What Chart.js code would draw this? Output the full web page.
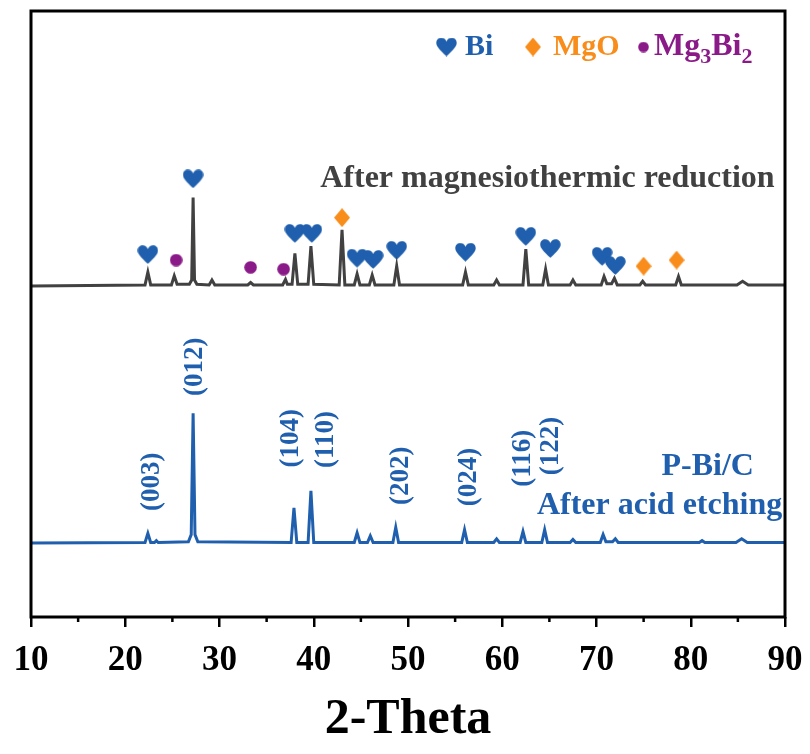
<!DOCTYPE html>
<html>
<head>
<meta charset="utf-8">
<script src="https://cdn.jsdelivr.net/npm/chart.js@4.4.1/dist/chart.umd.min.js"></script>
<style>
  html, body { margin: 0; padding: 0; background: #fff; }
  #wrap { width: 810px; height: 754px; }
</style>
</head>
<body>
<div id="wrap"><canvas id="xrd"></canvas></div>
<script>
// 2-Theta 坐标刻度
const xTicks = [10, 20, 30, 40, 50, 60, 70, 80, 90];

// 镁热还原后 (灰色曲线)
const mgThetas = [10, 22.1, 22.4, 22.7, 24.9, 25.2, 25.5, 26.8, 27.05, 27.2, 27.35, 27.6, 28.9, 29.2, 29.5,
  33.0, 33.3, 33.6, 36.7, 37.0, 37.2, 37.7, 38.0, 38.3, 39.4, 39.7, 40.0, 42.7, 43.0, 43.3,
  44.3, 44.6, 44.9, 45.9, 46.2, 46.5, 48.5, 48.8, 49.1, 55.8, 56.1, 56.4, 59.1, 59.4, 59.7,
  62.2, 62.5, 62.8, 64.3, 64.6, 64.9, 67.2, 67.5, 67.8, 70.5, 70.8, 71.1, 71.6, 71.9, 72.2,
  74.6, 74.9, 75.2, 78.4, 78.7, 79.0, 84.9, 85.5, 86.1, 90];
const mgCounts = [54.6, 54.8, 56.9, 54.8, 54.8, 56.3, 54.9, 54.9, 55.6, 69.2, 55.6, 54.9, 54.8, 55.6, 54.8,
  54.8, 55.2, 54.8, 54.8, 55.7, 54.9, 54.9, 60.0, 54.9, 54.9, 61.2, 54.9, 54.8, 63.9, 54.8,
  54.8, 56.6, 54.8, 54.8, 56.4, 54.8, 54.8, 57.9, 54.8, 54.8, 56.9, 54.8, 54.8, 55.6, 54.8,
  54.8, 60.7, 54.8, 54.8, 57.4, 54.8, 54.8, 55.6, 54.8, 54.8, 56.2, 55.0, 55.0, 55.9, 54.8,
  54.8, 55.4, 54.8, 54.8, 56.2, 54.8, 54.8, 55.4, 54.8, 54.8];

// 酸刻蚀后 P-Bi/C (蓝色曲线)
const pbThetas = [10, 22.1, 22.4, 22.7, 23.1, 23.3, 23.5, 26.7, 27.0, 27.2, 27.4, 27.7, 37.6, 37.9, 38.2,
  39.4, 39.7, 40.0, 44.3, 44.6, 44.9, 45.7, 46.0, 46.3, 48.4, 48.7, 49.0, 55.7, 56.0, 56.3,
  59.1, 59.4, 59.7, 61.9, 62.2, 62.5, 64.2, 64.5, 64.8, 67.2, 67.5, 67.8, 70.4, 70.7, 71.0,
  71.7, 72.0, 72.3, 80.9, 81.2, 81.5, 84.8, 85.4, 86.0, 90];
const pbCounts = [12.2, 12.3, 13.8, 12.3, 12.3, 12.6, 12.3, 12.4, 13.6, 33.6, 13.6, 12.4, 12.3, 18.0, 12.3,
  12.3, 20.8, 12.3, 12.3, 13.9, 12.3, 12.3, 13.4, 12.3, 12.3, 14.8, 12.3, 12.3, 14.4, 12.3,
  12.3, 12.9, 12.3, 12.3, 14.1, 12.3, 12.3, 14.4, 12.3, 12.3, 12.8, 12.3, 12.3, 13.6, 12.4,
  12.4, 12.9, 12.3, 12.3, 12.6, 12.3, 12.3, 12.9, 12.3, 12.3];

// 物相标记: Bi / MgO / Mg3Bi2
const biMarkX = [22.4, 27.2, 38.0, 39.8, 44.6, 46.3, 48.8, 56.1, 62.5, 65.1, 70.6, 72.0];
const biMarkY = [59.8, 72.3, 63.3, 63.3, 59.2, 59.0, 60.5, 60.2, 62.8, 60.8, 59.5, 58.0];
const mgoMarkX = [43.0, 75.0, 78.5];
const mgoMarkY = [65.9, 57.9, 58.9];
const mg3bi2MarkX = [25.4, 33.3, 36.8];
const mg3bi2MarkY = [58.9, 57.7, 57.4];

// 晶面指数标注
const hklNames = ['(003)', '(012)', '(104)', '(110)', '(202)', '(024)', '(116)', '(122)'];
const hklTheta = [22.8, 27.4, 37.6, 41.3, 49.3, 56.5, 62.2, 65.2];
const hklLevel = [22.3, 41.3, 29.5, 29.3, 23.3, 23.1, 26.2, 28.2];

const BLUE = '#1f5fae';
const GRAY = '#414141';
const ORANGE = '#f98d1c';
const PURPLE = '#8a1a88';
const SERIF = '"Liberation Serif", "DejaVu Serif", serif';

/**
 * 生成标记图形
 */
function makeHeart(color) {
  const c = document.createElement('canvas');
  c.width = 21; c.height = 19;
  const g = c.getContext('2d');
  g.fillStyle = color;
  g.beginPath();
  g.moveTo(10.5, 18.7);
  g.bezierCurveTo(3.3, 12, 0.3, 8.6, 0.3, 5.4);
  g.bezierCurveTo(0.3, 2.3, 2.6, 0.3, 5.3, 0.3);
  g.bezierCurveTo(7.8, 0.3, 9.7, 1.8, 10.5, 4.0);
  g.bezierCurveTo(11.3, 1.8, 13.2, 0.3, 15.7, 0.3);
  g.bezierCurveTo(18.4, 0.3, 20.7, 2.3, 20.7, 5.4);
  g.bezierCurveTo(20.7, 8.6, 17.7, 12, 10.5, 18.7);
  g.fill();
  return c;
}

function makeDiamond(color) {
  const c = document.createElement('canvas');
  c.width = 16; c.height = 19;
  const g = c.getContext('2d');
  g.fillStyle = color;
  g.beginPath();
  g.moveTo(8, 0); g.lineTo(16, 9.5); g.lineTo(8, 19); g.lineTo(0, 9.5);
  g.closePath();
  g.fill();
  return c;
}

function makeDot(color, size) {
  const c = document.createElement('canvas');
  c.width = size; c.height = size;
  const g = c.getContext('2d');
  g.fillStyle = color;
  g.beginPath();
  g.arc(size / 2, size / 2, size / 2 - 0.2, 0, Math.PI * 2);
  g.fill();
  return c;
}

const heartImg = makeHeart(BLUE);
const diamondImg = makeDiamond(ORANGE);
const dotImg = makeDot(PURPLE, 13);
const legendDotImg = makeDot(PURPLE, 11);

function toPoints(xs, ys) {
  return xs.map((x, i) => ({ x: x, y: ys[i] }));
}

/**
 * 边框、次刻度、文字标注和图例
 */
const decorPlugin = {
  id: 'decor',
  afterDraw(chart) {
    const ctx = chart.ctx;
    const xs = chart.scales.x;
    const ys = chart.scales.y;
    const area = chart.chartArea;

    ctx.save();
    // 次刻度
    ctx.strokeStyle = '#000';
    ctx.lineWidth = 2.5;
    for (let v = 15; v < 90; v += 10) {
      const px = xs.getPixelForValue(v);
      ctx.beginPath();
      ctx.moveTo(px, area.bottom);
      ctx.lineTo(px, area.bottom + 5);
      ctx.stroke();
    }
    // 边框
    ctx.lineWidth = 3;
    ctx.strokeRect(area.left, area.top, area.right - area.left, area.bottom - area.top);

    // 曲线说明
    ctx.textBaseline = 'middle';
    ctx.fillStyle = GRAY;
    ctx.font = 'bold 32px ' + SERIF;
    ctx.textAlign = 'right';
    ctx.fillText('After magnesiothermic reduction', xs.getPixelForValue(88.9), ys.getPixelForValue(72.3));

    ctx.fillStyle = BLUE;
    ctx.textAlign = 'center';
    ctx.fillText('P-Bi/C', xs.getPixelForValue(81.8), ys.getPixelForValue(24.8));
    ctx.textAlign = 'right';
    ctx.fillText('After acid etching', xs.getPixelForValue(89.7), ys.getPixelForValue(18.3));

    // 晶面指数
    ctx.font = 'bold 27px ' + SERIF;
    ctx.textAlign = 'center';
    hklNames.forEach((name, i) => {
      ctx.save();
      ctx.translate(xs.getPixelForValue(hklTheta[i]), ys.getPixelForValue(hklLevel[i]));
      ctx.rotate(-Math.PI / 2);
      ctx.fillText(name, 0, 0);
      ctx.restore();
    });

    // 图例
    const ly = 47;
    ctx.font = 'bold 30px ' + SERIF;
    ctx.textAlign = 'left';
    ctx.drawImage(heartImg, 436, ly - 9.5);
    ctx.fillStyle = BLUE;
    ctx.fillText('Bi', 465, ly);
    ctx.drawImage(diamondImg, 525, ly - 9.5);
    ctx.fillStyle = ORANGE;
    ctx.fillText('MgO', 553, ly);
    ctx.drawImage(legendDotImg, 638, ly - 5.5);
    ctx.fillStyle = PURPLE;
    let tx = 654;
    ctx.font = 'bold 32px ' + SERIF;
    ctx.fillText('Mg', tx, ly);
    tx += ctx.measureText('Mg').width;
    ctx.font = 'bold 22px ' + SERIF;
    ctx.fillText('3', tx, ly + 10);
    tx += ctx.measureText('3').width;
    ctx.font = 'bold 32px ' + SERIF;
    ctx.fillText('Bi', tx, ly);
    tx += ctx.measureText('Bi').width;
    ctx.font = 'bold 22px ' + SERIF;
    ctx.fillText('2', tx, ly + 10);
    ctx.restore();
  }
};

function markerSet(xs, ys, img) {
  return {
    type: 'scatter',
    data: toPoints(xs, ys),
    showLine: false,
    pointStyle: img,
    pointRadius: 10,
    pointHoverRadius: 10
  };
}

document.addEventListener('DOMContentLoaded', () => {
  const ctx = document.getElementById('xrd');
  new Chart(ctx, {
    type: 'line',
    data: {
      datasets: [
        {
          label: 'After magnesiothermic reduction',
          data: toPoints(mgThetas, mgCounts),
          borderColor: GRAY,
          borderWidth: 3,
          pointRadius: 0,
          tension: 0
        },
        {
          label: 'P-Bi/C',
          data: toPoints(pbThetas, pbCounts),
          borderColor: BLUE,
          borderWidth: 3,
          pointRadius: 0,
          tension: 0
        },
        markerSet(biMarkX, biMarkY, heartImg),
        markerSet(mgoMarkX, mgoMarkY, diamondImg),
        markerSet(mg3bi2MarkX, mg3bi2MarkY, dotImg)
      ]
    },
    options: {
      responsive: true,
      maintainAspectRatio: false,
      animation: false,
      layout: { padding: { left: 31, right: 25, top: 5, bottom: 0 } },
      plugins: {
        legend: { display: false },
        tooltip: { enabled: false }
      },
      scales: {
        x: {
          type: 'linear',
          min: 10,
          max: 90,
          afterBuildTicks: (scale) => {
            scale.ticks = xTicks.map(v => ({ value: v }));
          },
          afterFit: (scale) => {
            scale.height = 137;
            scale.paddingLeft = 0;
            scale.paddingRight = 0;
          },
          grid: {
            drawOnChartArea: false,
            tickLength: 10,
            lineWidth: 2.5,
            color: '#000'
          },
          border: { display: false },
          ticks: {
            color: '#000',
            padding: 13,
            maxRotation: 0,
            font: { family: SERIF, size: 35, weight: 'bold' }
          },
          title: {
            display: true,
            text: '2-Theta',
            color: '#000',
            padding: { top: 0, bottom: 4 },
            font: { family: SERIF, size: 50, weight: 'bold' }
          }
        },
        y: {
          display: false,
          min: 0,
          max: 100
        }
      }
    },
    plugins: [decorPlugin]
  });
});
</script>
</body>
</html>
